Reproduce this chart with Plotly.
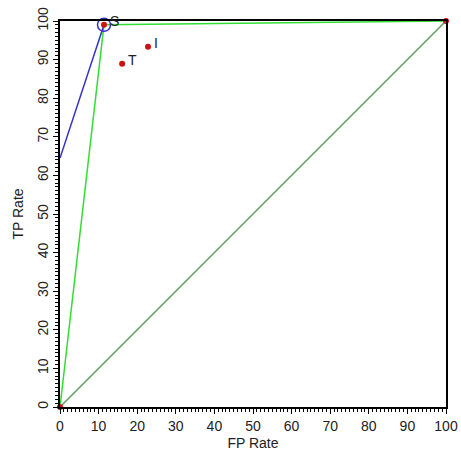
import plotly.graph_objects as go

# Classifier points (FP rate, TP rate)
names = ["S", "T", "I"]
fp = [11.4, 16.1, 22.8]
tp = [99.0, 88.9, 93.3]

# ROC convex hull
hull_fp = [0, 11.4, 100]
hull_tp = [0, 99.0, 100]

# Iso-performance line through S
iso_fp = [0, 11.4]
iso_tp = [64.5, 99.0]

# Random-guess diagonal
diag_fp = [0, 100]
diag_tp = [0, 100]

# Endpoints
end_fp = [0, 100]
end_tp = [0, 100]

FONT = "Liberation Sans, Arial"

fig = go.Figure()
fig.add_trace(go.Scatter(x=diag_fp, y=diag_tp, mode="lines",
                         line=dict(color="#5f9f5f", width=1.5), cliponaxis=False))
fig.add_trace(go.Scatter(x=hull_fp, y=hull_tp, mode="lines",
                         line=dict(color="#33dd33", width=1.5), cliponaxis=False))
fig.add_trace(go.Scatter(x=iso_fp, y=iso_tp, mode="lines",
                         line=dict(color="#3333cc", width=1.5), cliponaxis=False))
fig.add_trace(go.Scatter(x=[fp[0]], y=[tp[0]], mode="markers",
                         marker=dict(size=13, color="rgba(0,0,0,0)",
                                     line=dict(color="#3333cc", width=1.5)),
                         cliponaxis=False))
fig.add_trace(go.Scatter(x=end_fp, y=end_tp, mode="markers",
                         marker=dict(size=6, color="#dd1111"), cliponaxis=False))
fig.add_trace(go.Scatter(x=fp, y=tp, mode="markers",
                         marker=dict(size=6, color="#cc1111"), cliponaxis=False))

for n, x, y in zip(names, fp, tp):
    fig.add_annotation(x=x, y=y, text=n, showarrow=False, xanchor="left", yanchor="middle",
                       xshift=4, yshift=4,
                       font=dict(family=FONT, size=14, color="#222"))

axis_common = dict(
    range=[0, 100], dtick=10, showgrid=False, zeroline=False, automargin=False,
    ticklabeloverflow="allow",
    showline=True, linecolor="black", linewidth=1.5, mirror=True,
    ticks="outside", ticklen=5, tickcolor="black",
    minor=dict(dtick=1, ticks="outside", ticklen=3, tickcolor="black"),
    tickfont=dict(family=FONT, size=14, color="#222"),
)

fig.update_layout(
    width=461, height=453,
    margin=dict(l=60, r=15, t=21, b=46),
    paper_bgcolor="white", plot_bgcolor="white",
    showlegend=False,
    xaxis=dict(**axis_common,
               title=dict(text="FP Rate", standoff=6,
                          font=dict(family=FONT, size=14, color="#222"))),
    yaxis=dict(**axis_common, tickangle=-90,
               title=dict(text="TP Rate", standoff=8,
                          font=dict(family=FONT, size=14, color="#222"))),
)

fig.write_html("out.html", config={"displayModeBar": False},
               post_script="document.body.style.margin='0';")
